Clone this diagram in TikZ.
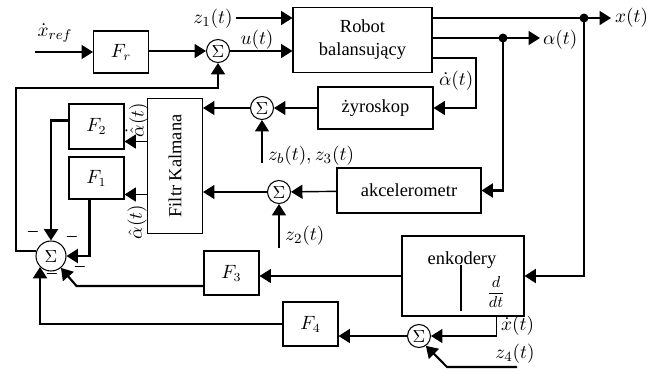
\documentclass[tikz,border=0pt]{standalone}
\usepackage{fontspec}
\setmainfont{Liberation Serif}
\usepackage{amsmath}
\usepackage{graphicx}
\usetikzlibrary{arrows.meta,calc}

\begin{document}
\begin{tikzpicture}[x=0.02cm,y=-0.02cm,
    blok/.style={draw,line width=0.6pt,inner sep=1pt,align=center,font=\fontsize{10.5}{13}\selectfont},
    sumator/.style={draw,circle,line width=0.6pt,minimum size=0.46cm,inner sep=0pt,font=\normalsize},
    lin/.style={line width=0.8pt,-{Triangle[length=6.5pt,width=8pt]}},
    gruba/.style={line width=1.2pt},
    lab/.style={font=\fontsize{11}{13}\selectfont,inner sep=1pt}]
    \useasboundingbox (0,0) rectangle (658,372);

    \node[blok,minimum width=1.1cm,minimum height=0.84cm] (Fr) at (121,52) {$F_r$};
    \node[sumator] (sum1) at (218,51) {$\Sigma$};
    \node[blok,minimum width=2.78cm,minimum height=1.3cm] (robot) at (362.5,40) {Robot\\balansujący};
    \node[blok,minimum width=2.3cm,minimum height=0.84cm] (gyro) at (375.5,108) {żyroskop};
    \node[sumator] (sumg) at (262,108) {$\Sigma$};
    \node[blok,minimum width=1.1cm,minimum height=2.7cm] (kalman) at (175,166) {\rotatebox{90}{Filtr Kalmana}};
    \node[blok,minimum width=1.1cm,minimum height=0.9cm] (F2) at (96.5,126.5) {$F_2$};
    \node[blok,minimum width=1.1cm,minimum height=0.84cm] (F1) at (96.5,178) {$F_1$};
    \node[sumator] (suma) at (279,192) {$\Sigma$};
    \node[blok,minimum width=2.88cm,minimum height=0.9cm] (acc) at (409,190.5) {akcelerometr};
    \node[blok,minimum width=2.44cm,minimum height=1.6cm] (enc) at (463,276) {};
    \node[blok,draw=none] at (462,260) {enkodery};
    \node[lab,font=\fontsize{9}{11}\selectfont] at (496,292) {$\dfrac{d}{dt}$};
    \draw[line width=1pt] (461,265) -- (461,311);
    \node[blok,minimum width=1.1cm,minimum height=0.88cm] (F3) at (231.5,273) {$F_3$};
    \node[sumator] (sumx) at (419,336) {$\Sigma$};
    \node[blok,minimum width=1.1cm,minimum height=0.88cm] (F4) at (310.5,324) {$F_4$};
    \node[sumator,minimum size=0.6cm] (sumc) at (51,256) {$\Sigma$};

    \coordinate (xin) at (35,52);
    \coordinate (z1) at (236,18);
    \coordinate (xdot) at (584,18);
    \coordinate (xout) at (611,18);
    \coordinate (adot) at (503,38);
    \coordinate (aout) at (540,38);
    \coordinate (gz) at (476,58);
    \coordinate (zb) at (262,163);
    \coordinate (z2) at (279,248);
    \coordinate (z4) at (517,367);
    \coordinate (z4k) at (447,367);
    \coordinate (fb) at (16,88);
    \coordinate (kF2) at ($(F2.south east)+(0,-8)$);
    \coordinate (kF1) at ($(F1.south east)+(0,-5)$);
    \coordinate (encx) at ($(enc.south east)+(-28,0)$);

    \draw[lin] (xin) -- (xin -| Fr.west);
    \draw[lin] (Fr.east |- sum1) -- (sum1);
    \draw[lin] (sum1) -- (sum1 -| robot.west);
    \draw[lin] (z1) -- (z1 -| robot.west);
    \draw[line width=0.8pt] (robot.east |- xdot) -- (xdot);
    \draw[lin] (xdot) -- (xout);
    \draw[line width=0.8pt] (robot.east |- adot) -- (adot);
    \draw[lin] (adot) -- (aout);
    \fill (xdot) circle (4.5) (adot) circle (4.5);
    \draw[lin] (robot.east |- gz) -- (gz) |- (gyro.east);
    \draw[lin] (gyro) -- (sumg);
    \draw[lin] (sumg) -- (sumg -| kalman.east);
    \draw[lin] (zb) -- (sumg);
    \draw[lin,gruba] (adot) |- (acc.east);
    \draw[lin] (acc) -- (suma);
    \draw[lin] (suma) -- (suma -| kalman.east);
    \draw[lin] (z2) -- (suma);
    \draw[lin,gruba] (xdot) |- (enc.east);
    \draw[lin] (kalman.west |- kF2) -- (kF2);
    \draw[lin] (kalman.west |- kF1) -- (kF1);
    \draw[lin,gruba] ($(F2.west)+(0,-6)$) -| (sumc.north);
    \draw[lin,gruba] ($(F1.south west)+(21,0)$) |- (sumc.east);
    \draw[lin] (enc.west) -- (enc.west -| F3.east);
    \draw[lin,gruba] ($(F3.west)+(0,13)$) -- ++(-127,0) -- (sumc.-50);
    \draw[lin] (encx) |- (sumx.east);
    \draw[lin,gruba] (z4) -- (z4k) -- (sumx.-55);
    \draw[lin] (sumx) -- (sumx -| F4.east);
    \draw[lin,gruba] (F4.west) -| (sumc.-135);
    \draw[lin,gruba] (sumc.160) -| (fb) -| (sum1.south);

    \node[lab] at (55,33) {$\dot{x}_{ref}$};
    \node[lab] at (257,40) {$u(t)$};
    \node[lab] at (213,19) {$z_1(t)$};
    \node[lab,anchor=west] at (613,18) {$x(t)$};
    \node[lab,anchor=west] at (541,40) {$\alpha(t)$};
    \node[lab,anchor=west] at (437,81) {$\dot{\alpha}(t)$};
    \node[lab,anchor=west] at (266,156) {$z_b(t), z_3(t)$};
    \node[lab,anchor=west] at (283,236) {$z_2(t)$};
    \node[lab,rotate=90] at (137,120) {$\dot{\hat{\alpha}}(t)$};
    \node[lab,rotate=90] at (137,222) {$\hat{\alpha}(t)$};
    \node[lab,anchor=west] at (499,326) {$\dot{x}(t)$};
    \node[lab] at (515,354) {$z_4(t)$};
    \node[lab] at (33,234) {--};
    \node[lab] at (72,239) {--};
    \node[lab] at (80,269) {--};
    \node[lab] at (52,276) {--};
\end{tikzpicture}
\end{document}
